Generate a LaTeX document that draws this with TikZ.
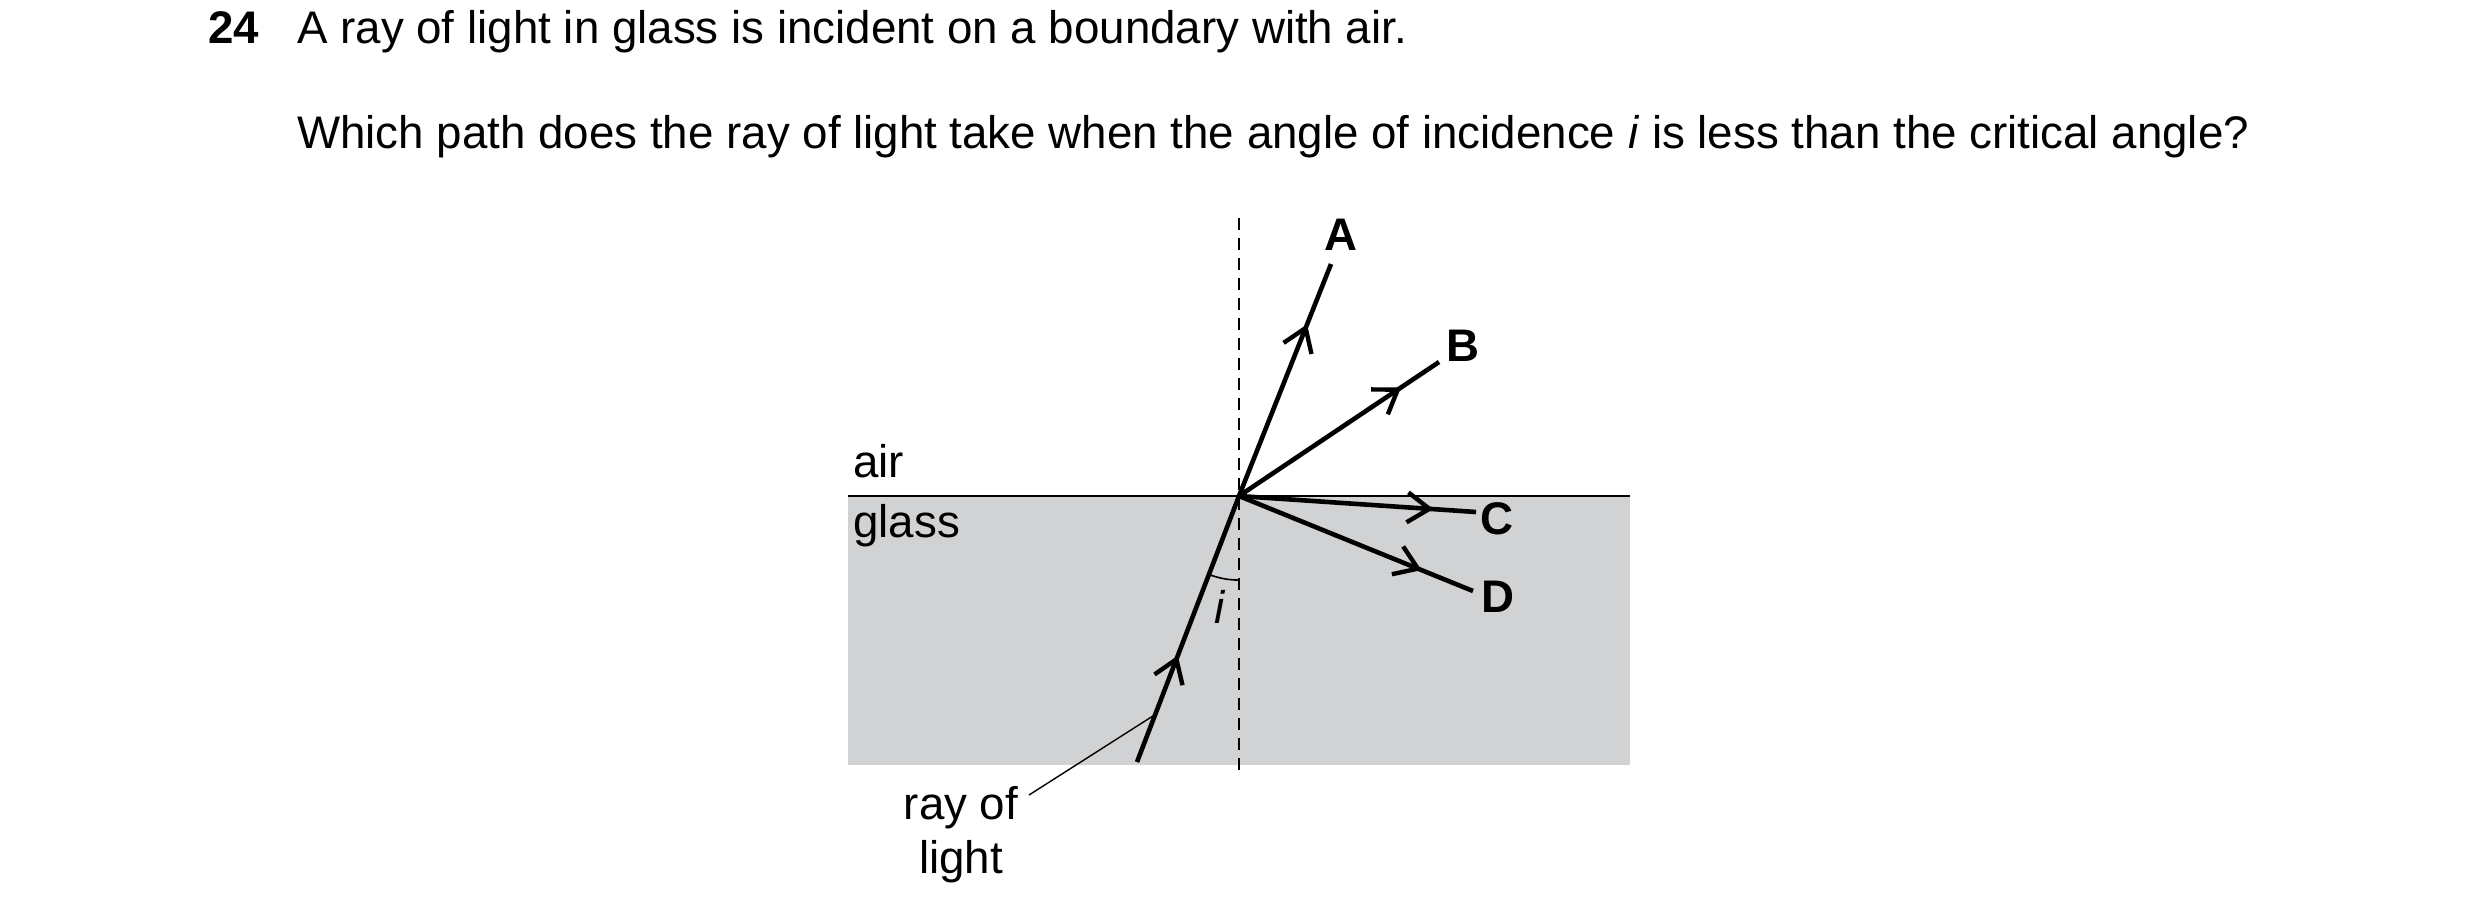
\documentclass[tikz,border=0pt]{standalone}
\usepackage{fontspec}
\setmainfont{Liberation Sans}
\usetikzlibrary{arrows.meta,decorations.markings}
\definecolor{glassgrey}{HTML}{D1D2D4}
\begin{document}
\begin{tikzpicture}[x=0.25mm,y=-0.25mm,
  txt/.style={inner sep=0pt,font=\fontsize{32.5}{38}\selectfont},
  lab/.style={inner sep=0pt,font=\fontsize{32.5}{38}\selectfont\bfseries},
  ray/.style={line width=1.15mm,line cap=butt},
  mk/.style={postaction={decorate,decoration={markings,mark=at position #1 with {\arrow{Straight Barb[length=5.5mm,width=7.5mm,line width=1.1mm]}}}}}]
\useasboundingbox (0,0) rectangle (2480,918);
\begin{scope}[xshift=-1.5mm]
\fill[glassgrey] (854,496) rectangle (1636,765);
\draw[line width=0.55mm] (854,496) -- (1636,496);
\coordinate (P) at (1245,496);
\coordinate (N1) at (1245,218);
\coordinate (N2) at (1245,777);
\draw[line width=0.45mm,dash pattern=on 3mm off 2mm] (N1) -- (N2);
\coordinate (S) at (1143,762);
\coordinate (Ae) at (1337,264);
\coordinate (Be) at (1445,362);
\coordinate (Ce) at (1482,512);
\coordinate (De) at (1479,591);
\draw[ray,mk=0.4] (S) -- (P);
\draw[ray,mk=0.74] (P) -- (Ae);
\draw[ray,mk=0.81] (P) -- (Be);
\draw[ray,mk=0.82] (P) -- (Ce);
\draw[ray,mk=0.78] (P) -- (De);
\draw[line width=0.4mm] (1215,574.5) arc[start angle=111,end angle=90,radius=84];
\node[txt,anchor=base] (i) at (1226,623) {\itshape i};
\node[lab,anchor=base] (A) at (1347,250) {A};
\node[lab,anchor=base] (B) at (1469,361) {B};
\node[lab,anchor=base] (C) at (1503,534) {C};
\node[lab,anchor=base] (D) at (1504,612) {D};
\node[txt,anchor=base west] (air) at (859,477) {air};
\node[txt,anchor=base west] (glass) at (859,537) {glass};
\node[txt,anchor=base] (ray1) at (967,819) {ray of};
\node[txt,anchor=base] (ray2) at (967,873) {light};
\coordinate (L) at (1162,714);
\draw[line width=0.35mm] (1035,795) -- (L);
\end{scope}
\node[lab,anchor=base west] (n) at (208,43) {24};
\node[txt,anchor=base west] (q1) at (297,43) {A ray of light in glass is incident on a boundary with air.};
\node[txt,anchor=base west] (q2) at (297,148) {Which path does the ray of light take when the angle of incidence \textit{i} is less than the critical angle?};
\end{tikzpicture}
\end{document}
